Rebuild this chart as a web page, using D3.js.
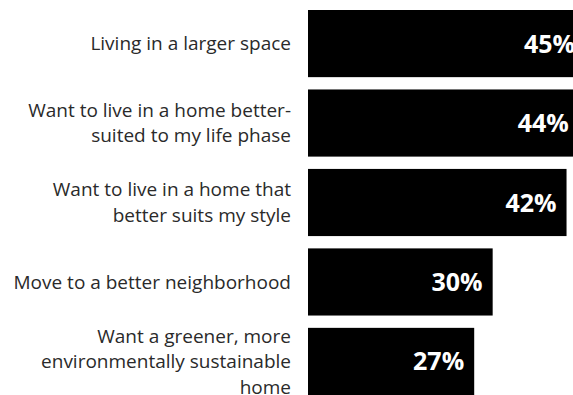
<!DOCTYPE html>
<html>
<head>
<meta charset="utf-8">
<script src="https://cdn.jsdelivr.net/npm/d3@7"></script>
<style>
  body { margin: 0; background: #fff; }
  svg { display: block; }
  .cat { font-family: "Open Sans", sans-serif; font-size: 19px; fill: #2a2a2a; }
  .val { font-family: "Open Sans", sans-serif; font-size: 25px; font-weight: bold; fill: #fff; }
</style>
</head>
<body>
<div id="holder"></div>
<script>
const categories = [
    ["Living in a larger space"],
    ["Want to live in a home better-", "suited to my life phase"],
    ["Want to live in a home that", "better suits my style"],
    ["Move to a better neighborhood"],
    ["Want a greener, more", "environmentally sustainable", "home"]
];
const values = [45, 44, 42, 30, 27];

const w = 573, h = 395;
const padLeft = 308, padTop = 10, lineH = 25.5;

const svg = d3.select('#holder')
    .append('svg')
    .attr('width', w)
    .attr('height', h);

const keys = categories.map((c, i) => i);

const xScale = d3.scaleLinear()
    .domain([0, 45])
    .range([padLeft, padLeft + 277]);

const yScale = d3.scaleBand()
    .domain(keys)
    .range([padTop, 395])
    .paddingInner(0.155)
    .paddingOuter(0);

// bars
svg.selectAll('rect')
    .data(values)
    .enter()
    .append('rect')
    .attr('x', xScale(0))
    .attr('y', (d, i) => yScale(i))
    .attr('width', d => xScale(d) - xScale(0))
    .attr('height', yScale.bandwidth())
    .style('fill', '#000');

// value labels
svg.selectAll('text.val')
    .data(values)
    .enter()
    .append('text')
    .attr('class', 'val')
    .attr('x', d => xScale(d) - 10)
    .attr('y', (d, i) => yScale(i) + yScale.bandwidth() / 2)
    .attr('dy', '0.36em')
    .style('text-anchor', 'end')
    .text(d => d + '%');

// category labels
svg.selectAll('text.cat')
    .data(categories)
    .enter()
    .append('text')
    .attr('class', 'cat')
    .attr('y', (d, i) => yScale(i) + yScale.bandwidth() / 2)
    .style('text-anchor', 'end')
    .each(function (lines) {
        const t = d3.select(this);
        const y0 = +t.attr('y') - (lines.length - 1) * lineH / 2;
        lines.forEach((line, j) => {
            t.append('tspan')
                .attr('x', 291)
                .attr('y', y0 + j * lineH)
                .attr('dy', '0.35em')
                .text(line);
        });
    });
</script>
</body>
</html>
